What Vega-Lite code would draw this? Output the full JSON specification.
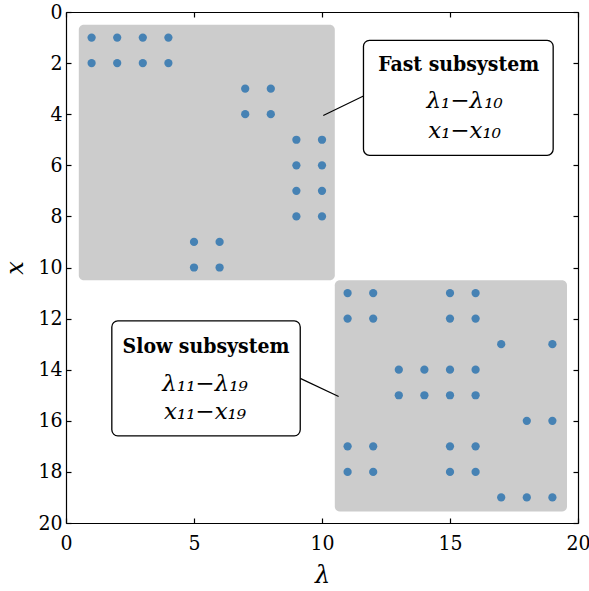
{
  "$schema": "https://vega.github.io/schema/vega-lite/v6.json",
  "width": 512,
  "height": 511,
  "autosize": {"type": "none"},
  "padding": {"left": 66, "top": 12, "right": 11, "bottom": 68},
  "background": "white",
  "config": {
    "view": {"stroke": null},
    "axis": {
      "grid": false,
      "domainColor": "black",
      "domainWidth": 1.2,
      "tickColor": "black",
      "tickWidth": 1.2,
      "labelFont": "DejaVu Serif Condensed",
      "labelFontSize": 21,
      "labelColor": "black",
      "titleFont": "DejaVu Serif",
      "titleFontStyle": "italic",
      "titleFontWeight": "normal",
      "titleFontSize": 24,
      "titleColor": "black"
    }
  },
  "datasets": {
    "points": [
      {"lam": 1, "x": 1}, {"lam": 2, "x": 1}, {"lam": 3, "x": 1}, {"lam": 4, "x": 1},
      {"lam": 1, "x": 2}, {"lam": 2, "x": 2}, {"lam": 3, "x": 2}, {"lam": 4, "x": 2},
      {"lam": 7, "x": 3}, {"lam": 8, "x": 3}, {"lam": 7, "x": 4}, {"lam": 8, "x": 4},
      {"lam": 9, "x": 5}, {"lam": 10, "x": 5}, {"lam": 9, "x": 6}, {"lam": 10, "x": 6},
      {"lam": 9, "x": 7}, {"lam": 10, "x": 7}, {"lam": 9, "x": 8}, {"lam": 10, "x": 8},
      {"lam": 5, "x": 9}, {"lam": 6, "x": 9}, {"lam": 5, "x": 10}, {"lam": 6, "x": 10},
      {"lam": 11, "x": 11}, {"lam": 12, "x": 11}, {"lam": 15, "x": 11}, {"lam": 16, "x": 11},
      {"lam": 11, "x": 12}, {"lam": 12, "x": 12}, {"lam": 15, "x": 12}, {"lam": 16, "x": 12},
      {"lam": 17, "x": 13}, {"lam": 19, "x": 13},
      {"lam": 13, "x": 14}, {"lam": 14, "x": 14}, {"lam": 15, "x": 14}, {"lam": 16, "x": 14},
      {"lam": 13, "x": 15}, {"lam": 14, "x": 15}, {"lam": 15, "x": 15}, {"lam": 16, "x": 15},
      {"lam": 18, "x": 16}, {"lam": 19, "x": 16},
      {"lam": 11, "x": 17}, {"lam": 12, "x": 17}, {"lam": 15, "x": 17}, {"lam": 16, "x": 17},
      {"lam": 11, "x": 18}, {"lam": 12, "x": 18}, {"lam": 15, "x": 18}, {"lam": 16, "x": 18},
      {"lam": 17, "x": 19}, {"lam": 18, "x": 19}, {"lam": 19, "x": 19}
    ],
    "blocks": [
      {"name": "fast", "x1": 0.5, "x2": 10.5, "y1": 0.5, "y2": 10.5},
      {"name": "slow", "x1": 10.5, "x2": 19.57, "y1": 10.5, "y2": 19.55}
    ],
    "boxes": [
      {"name": "fast", "x1": 11.62, "x2": 19.03, "y1": 1.11, "y2": 5.61},
      {"name": "slow", "x1": 1.79, "x2": 9.15, "y1": 12.09, "y2": 16.59}
    ],
    "leaders": [
      {"name": "fast", "x1": 10.05, "y1": 4.05, "x2": 11.62, "y2": 3.29},
      {"name": "slow", "x1": 9.15, "y1": 14.34, "x2": 10.65, "y2": 15.05}
    ],
    "titles": [
      {"label": "Fast subsystem", "tx": 15.34, "ty": 2.31},
      {"label": "Slow subsystem", "tx": 5.47, "ty": 13.33}
    ],
    "mathlines": [
      {"label": "λ₁−λ₁₀", "tx": 15.57, "ty": 3.75},
      {"label": "x₁−x₁₀", "tx": 15.57, "ty": 4.92},
      {"label": "λ₁₁−λ₁₉", "tx": 5.43, "ty": 14.83},
      {"label": "x₁₁−x₁₉", "tx": 5.43, "ty": 15.93}
    ]
  },
  "resolve": {"axis": {"x": "independent", "y": "independent"}},
  "layer": [
    {
      "data": {"name": "blocks"},
      "mark": {"type": "rect", "fill": "#cccccc", "cornerRadius": 5},
      "encoding": {
        "x": {"field": "x1", "type": "quantitative", "scale": {"domain": [0, 20], "nice": false, "zero": false},
              "axis": {"orient": "top", "labels": false, "title": null, "values": [0, 5, 10, 15, 20], "tickSize": -5, "domain": true}},
        "x2": {"field": "x2"},
        "y": {"field": "y1", "type": "quantitative", "scale": {"domain": [0, 20], "reverse": true, "nice": false, "zero": false},
              "axis": {"orient": "right", "labels": false, "title": null, "values": [0, 2, 4, 6, 8, 10, 12, 14, 16, 18, 20], "tickSize": -5, "domain": true}},
        "y2": {"field": "y2"}
      }
    },
    {
      "data": {"name": "points"},
      "mark": {"type": "circle", "size": 68, "color": "#4682b4", "opacity": 1},
      "encoding": {
        "x": {"field": "lam", "type": "quantitative",
              "axis": {"orient": "bottom", "title": "λ", "values": [0, 5, 10, 15, 20], "tickSize": -5, "labelPadding": 14, "titlePadding": 10, "labelFlush": false}},
        "y": {"field": "x", "type": "quantitative",
              "axis": {"orient": "left", "title": "x", "values": [0, 2, 4, 6, 8, 10, 12, 14, 16, 18, 20], "tickSize": -5, "labelPadding": 9, "titlePadding": 10, "labelFlush": false}}
      }
    },
    {
      "data": {"name": "leaders"},
      "mark": {"type": "rule", "color": "black", "strokeWidth": 1.2},
      "encoding": {
        "x": {"field": "x1", "type": "quantitative", "axis": null},
        "y": {"field": "y1", "type": "quantitative", "axis": null},
        "x2": {"field": "x2"},
        "y2": {"field": "y2"}
      }
    },
    {
      "data": {"name": "boxes"},
      "mark": {"type": "rect", "fill": "white", "stroke": "black", "strokeWidth": 1.3, "cornerRadius": 6},
      "encoding": {
        "x": {"field": "x1", "type": "quantitative", "axis": null},
        "x2": {"field": "x2"},
        "y": {"field": "y1", "type": "quantitative", "axis": null},
        "y2": {"field": "y2"}
      }
    },
    {
      "data": {"name": "titles"},
      "mark": {"type": "text", "font": "DejaVu Serif Condensed", "fontWeight": "bold", "fontSize": 21, "align": "center", "baseline": "alphabetic", "color": "black"},
      "encoding": {
        "x": {"field": "tx", "type": "quantitative", "axis": null},
        "y": {"field": "ty", "type": "quantitative", "axis": null},
        "text": {"field": "label"}
      }
    },
    {
      "data": {"name": "mathlines"},
      "mark": {"type": "text", "font": "DejaVu Serif", "fontStyle": "italic", "fontSize": 23, "align": "center", "baseline": "alphabetic", "color": "black"},
      "encoding": {
        "x": {"field": "tx", "type": "quantitative", "axis": null},
        "y": {"field": "ty", "type": "quantitative", "axis": null},
        "text": {"field": "label"}
      }
    }
  ]
}
